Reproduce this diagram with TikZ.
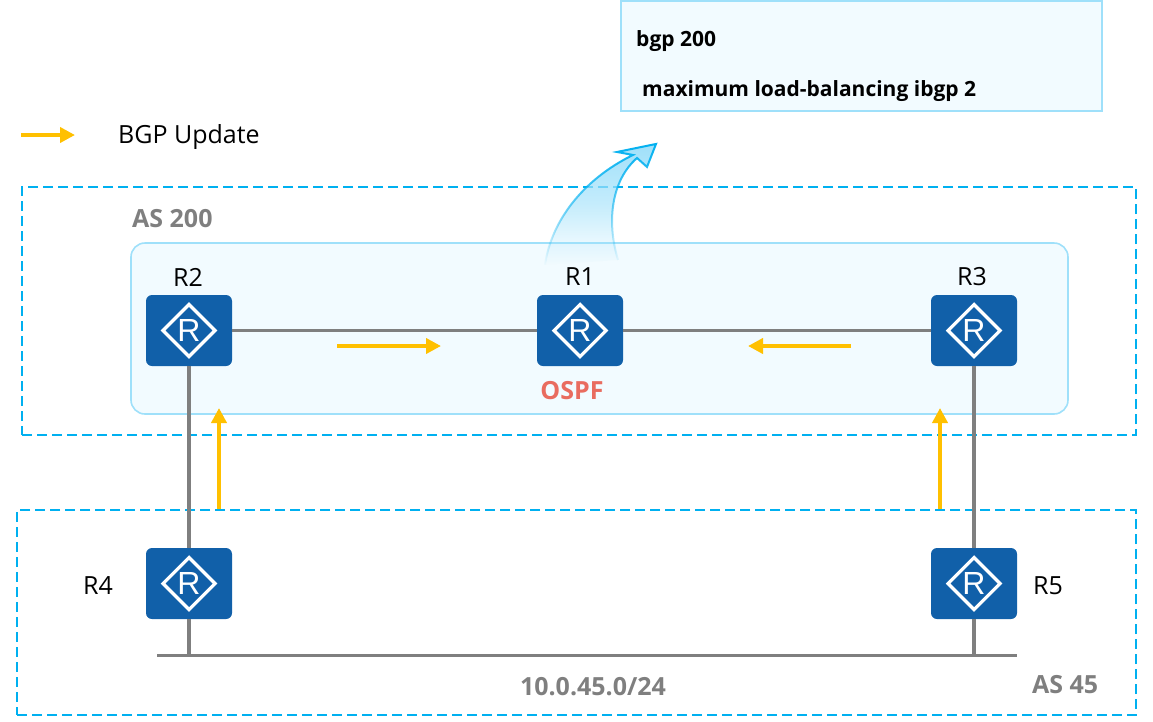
\documentclass[tikz,border=0pt]{standalone}
\usepackage{fontspec}
\setmainfont{Open Sans}
\newfontfamily\rfont{Liberation Sans}
\usetikzlibrary{arrows.meta,fadings,positioning}
\definecolor{dashblue}{HTML}{00B0F0}
\definecolor{paleblue}{HTML}{F2FBFF}
\definecolor{edgeblue}{HTML}{9FE0FA}
\definecolor{routerblue}{HTML}{1160A9}
\definecolor{linkgray}{HTML}{7F7F7F}
\definecolor{updateorange}{HTML}{FFC000}
\definecolor{ospfred}{HTML}{E96C5F}
\tikzfading[name=upfade,bottom color=transparent!100,top color=transparent!0,middle color=transparent!40]
\tikzset{
  x=1pt,y=-1pt,
  router/.style={draw=none,fill=routerblue,rounded corners=6pt,minimum width=86pt,minimum height=71pt,inner sep=0pt,text=white,
    font=\rfont\fontsize{32}{32}\selectfont,
    path picture={\draw[white,line width=3.2pt,sharp corners,line join=miter] (path picture bounding box.center)
      +(-26pt,0)--+(0,26pt)--+(26pt,0)--+(0,-26pt)--cycle;}},
  name label/.style={font=\fontsize{25}{29}\selectfont,text=black,inner sep=0pt},
  as label/.style={font=\fontsize{25}{29}\selectfont\bfseries,text=linkgray,inner sep=0pt},
  as box/.style={draw=dashblue,line width=1.6pt,dash pattern=on 10pt off 5pt},
  link/.style={draw=linkgray,line width=3.4pt},
  update/.style={draw=updateorange,line width=4.4pt,-{Triangle[length=15pt,width=15pt]}},
  cmd/.style={font=\fontsize{21}{25}\selectfont\bfseries,text=black,inner sep=0pt,anchor=west}
}
\begin{document}
\begin{tikzpicture}
\useasboundingbox (0,0) rectangle (1153,721);
% containers
\node[draw=edgeblue,fill=paleblue,line width=1.6pt,minimum width=481pt,minimum height=110pt,inner sep=0pt] (cfg) at (861.5,56) {};
\node[draw=edgeblue,fill=paleblue,line width=1.6pt,rounded corners=14pt,minimum width=937pt,minimum height=171pt,inner sep=0pt] (ospfarea) at (599.5,328.5) {};
\node[as box,minimum width=1114pt,minimum height=248pt,inner sep=0pt] (as200) at (579,311) {};
\node[as box,minimum width=1119pt,minimum height=205pt,inner sep=0pt] (as45) at (576.5,612.5) {};
% routers
\node[router] (R2) at (189,330.5) {R};
\node[router] (R1) at (580,330.5) {R};
\node[router] (R3) at (974,330.5) {R};
\node[router] (R4) at (189,583.5) {R};
\node[router] (R5) at (974,583.5) {R};
% bus
\coordinate (busL) at (157,655.5);
\coordinate (busR) at (1017,655.5);
\coordinate (busA) at (R4.south |- busL);
\coordinate (busB) at (R5.south |- busL);
\draw[link] (busL) -- (busR);
\draw[link] (R4.south) -- (busA);
\draw[link] (R5.south) -- (busB);
\draw[link] (R2.east) -- (R1.west);
\draw[link] (R1.east) -- (R3.west);
\draw[link] (R2.south) -- (R4.north);
\draw[link] (R3.south) -- (R5.north);
% updates
\coordinate (legA) at (21,135); \coordinate (legB) at (75,135);
\coordinate (u1a) at (337,346); \coordinate (u1b) at (441,346);
\coordinate (u2a) at (851,346); \coordinate (u2b) at (748,346);
\coordinate (u3a) at (219,509); \coordinate (u3b) at (219,408);
\coordinate (u4a) at (940,509); \coordinate (u4b) at (940,408);
\draw[update] (legA) -- (legB);
\draw[update] (u1a) -- (u1b);
\draw[update] (u2a) -- (u2b);
\draw[update] (u3a) -- (u3b);
\draw[update] (u4a) -- (u4b);
% curved call-out arrow
\fill[edgeblue,path fading=upfade]
  (545,265) .. controls (551,222) and (582,180) .. (633,155)
  -- (617,152) -- (656,144) -- (647,167) -- (637,158)
  .. controls (612,180) and (606,220) .. (618,260) -- cycle;
\draw[dashblue,line width=2pt,line join=miter,path fading=upfade]
  (545,265) .. controls (551,222) and (582,180) .. (633,155)
  -- (617,152) -- (656,144) -- (647,167) -- (637,158)
  .. controls (612,180) and (606,220) .. (618,260);
% labels
\node[name label] (lR2) at (188,277) {R2};
\node[name label] (lR1) at (580,277) {R1};
\node[name label] (lR3) at (972,277) {R3};
\node[name label] (lR4) at (98,586) {R4};
\node[name label] (lR5) at (1048,586) {R5};
\node[name label,anchor=west] (leg) at (118,137) {BGP Update};
\node[as label,anchor=west] (l200) at (132,219) {AS 200};
\node[as label,anchor=west] (l45) at (1032,685) {AS 45};
\node[as label] (net) at (593,687) {10.0.45.0/24};
\node[font=\fontsize{25}{29}\selectfont\bfseries,text=ospfred,inner sep=0pt] (ospf) at (572,391) {OSPF};
\node[cmd] (c1) at (636,41) {bgp 200};
\node[cmd] (c2) at (642,91) {maximum load-balancing ibgp 2};
\end{tikzpicture}
\end{document}
